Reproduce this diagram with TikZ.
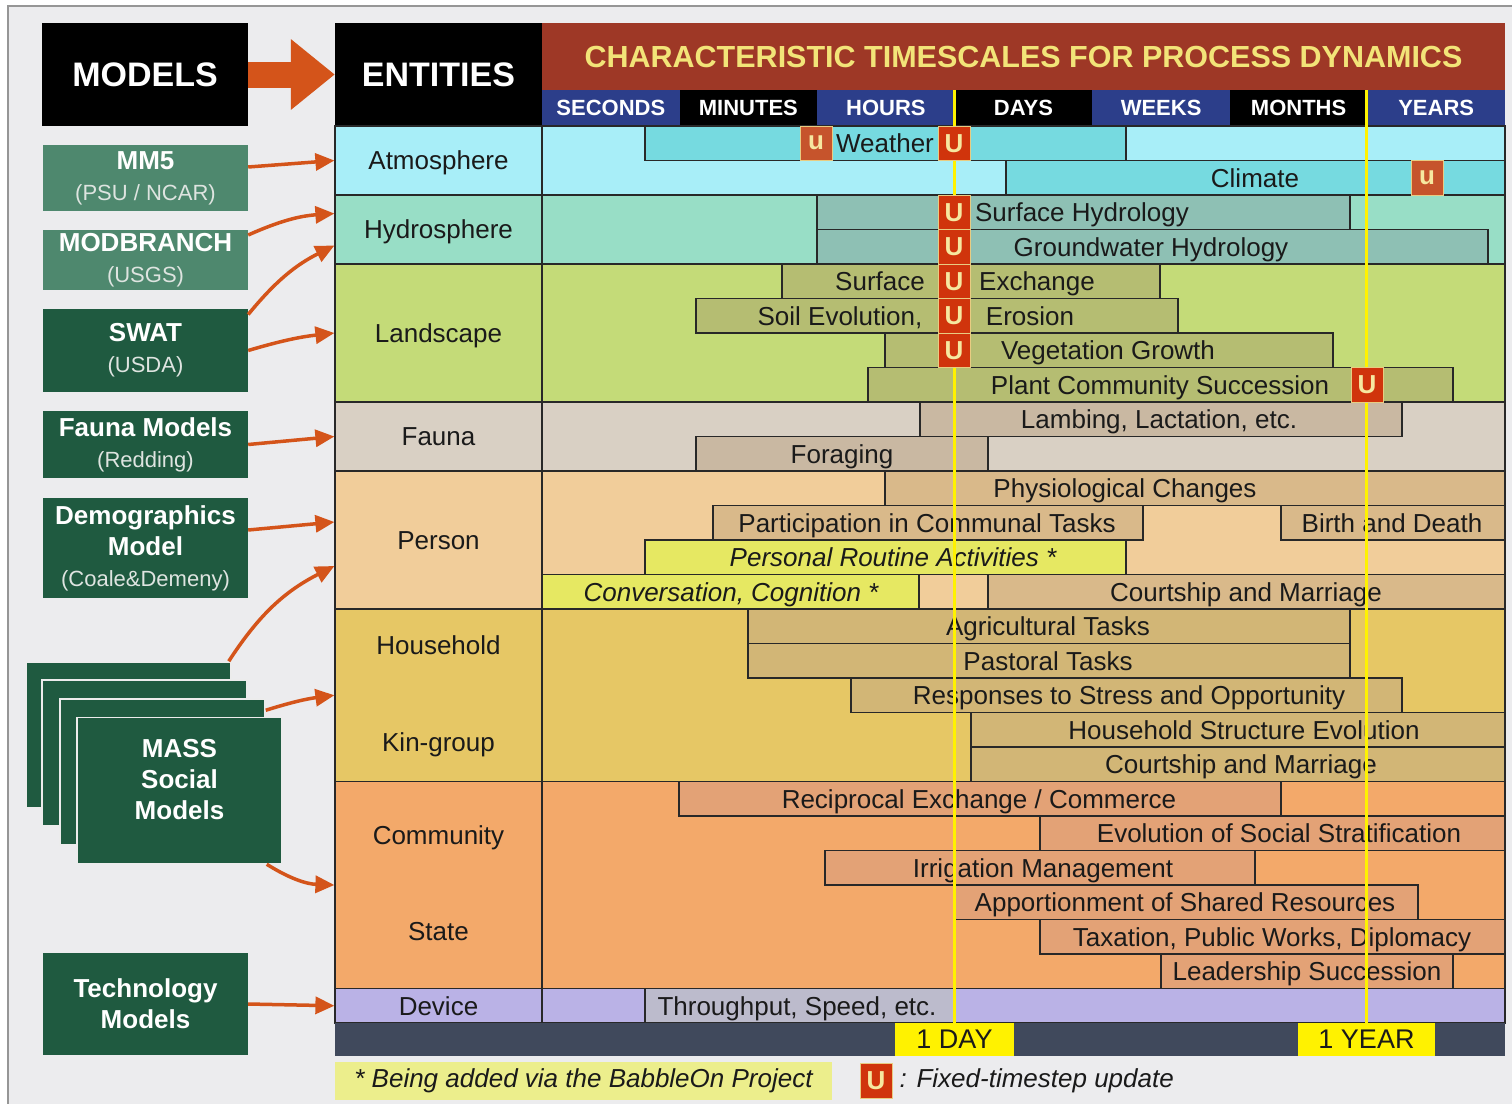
\documentclass[tikz,border=0pt]{standalone}
\usepackage{fontspec}
\setmainfont{Liberation Sans}
\usetikzlibrary{positioning,arrows.meta}

\definecolor{bgc}{RGB}{236,236,238}
\definecolor{framec}{RGB}{150,150,150}
\definecolor{arrowc}{RGB}{212,84,26}
\definecolor{linec}{RGB}{40,40,40}
\definecolor{textc}{RGB}{26,26,26}
\definecolor{titlec}{RGB}{158,56,38}
\definecolor{titletext}{RGB}{242,228,120}
\definecolor{tsblue}{RGB}{44,62,138}
\definecolor{modlight}{RGB}{78,136,110}
\definecolor{moddark}{RGB}{31,90,64}
\definecolor{subc}{RGB}{222,228,224}
\definecolor{atmrow}{RGB}{168,238,248}
\definecolor{atmbar}{RGB}{118,218,224}
\definecolor{hydrow}{RGB}{152,222,198}
\definecolor{hydbar}{RGB}{142,192,180}
\definecolor{lndrow}{RGB}{196,219,120}
\definecolor{lndbar}{RGB}{181,189,114}
\definecolor{fnarow}{RGB}{217,208,196}
\definecolor{fnabar}{RGB}{201,184,162}
\definecolor{perrow}{RGB}{241,205,154}
\definecolor{perbar}{RGB}{217,185,138}
\definecolor{newbar}{RGB}{230,232,98}
\definecolor{hhdrow}{RGB}{230,199,101}
\definecolor{hhdbar}{RGB}{210,182,118}
\definecolor{comrow}{RGB}{243,169,106}
\definecolor{combar}{RGB}{227,162,118}
\definecolor{devrow}{RGB}{186,178,230}
\definecolor{devbar}{RGB}{188,187,204}
\definecolor{axisc}{RGB}{64,73,92}
\definecolor{ylw}{RGB}{255,242,0}
\definecolor{notec}{RGB}{236,238,140}
\definecolor{updc}{RGB}{208,52,12}
\definecolor{ulow}{RGB}{198,84,44}
\definecolor{updline}{RGB}{232,204,130}
\definecolor{updtext}{RGB}{246,232,160}

\newcommand{\sublbl}[1]{{\mdseries\fontsize{22}{26}\selectfont\color{subc}#1}}

\begin{document}
\begin{tikzpicture}[x=1pt,y=-1pt,
    every node/.style={inner sep=0pt},
    headbox/.style={fill=black,text=white,minimum width=206pt,minimum height=103pt,font=\fontsize{34}{40}\selectfont\bfseries},
    tscell/.style={text=white,minimum width=137.6pt,minimum height=36pt,font=\fontsize{22}{26}\selectfont\bfseries},
    lbl/.style={text=textc,font=\fontsize{26}{30}\selectfont,text height=23pt,text depth=4.4pt},
    cell/.style={lbl,draw=linec,line width=1.2pt,minimum width=207pt},
    band/.style={draw=linec,line width=1.2pt},
    bar/.style={draw=linec,line width=1.2pt},
    model/.style={fill=modlight,text=white,minimum width=205pt,align=center,font=\fontsize{26}{31}\selectfont\bfseries},
    stack/.style={model,fill=moddark,draw=white!85!gray,line width=1.5pt,minimum height=146pt},
    upd/.style={fill=updc,draw=updline,line width=1pt,minimum width=32pt,minimum height=34.5pt,text=updtext,font=\fontsize{26}{30}\selectfont\bfseries},
    feed/.style={draw=arrowc,line width=3.5pt,-{Triangle[length=19pt,width=17pt]}},
    dayline/.style={draw=ylw,line width=3pt},
    daybox/.style={fill=ylw,minimum height=33pt,text=textc,font=\fontsize{27}{32}\selectfont}
    ]

  \useasboundingbox (0,0) rectangle (1512,1103);
  \fill[white] (0,0) rectangle (1512,1103);
  \draw[fill=bgc,draw=framec,line width=1.5pt] (8,6) rectangle (1530,1130);

  \node(models) [headbox] at (145,74.5) {MODELS};
  \node(entities) [headbox,minimum width=207pt] at (438.5,74.5) {ENTITIES};
  \draw[arrowc,line width=26pt,-{Triangle[length=44pt,width=68pt]}] (models.east) -- (entities.west);

  \node(title) [fill=titlec,text=titletext,minimum width=963pt,minimum height=67pt,font=\fontsize{30.5}{36}\selectfont\bfseries] at (1023.5,56.5) {CHARACTERISTIC TIMESCALES FOR PROCESS DYNAMICS};
  \node(hsec) [tscell,fill=tsblue] at (610.8,108) {SECONDS};
  \node(hmin) [tscell,fill=black] at (748.4,108) {MINUTES};
  \node(hhour) [tscell,fill=tsblue] at (885.9,108) {HOURS};
  \node(hday) [tscell,fill=black] at (1023.5,108) {DAYS};
  \node(hweek) [tscell,fill=tsblue] at (1161.1,108) {WEEKS};
  \node(hmonth) [tscell,fill=black] at (1298.6,108) {MONTHS};
  \node(hyear) [tscell,fill=tsblue] at (1436.2,108) {YEARS};

  \draw[band,fill=atmrow] (335,126) rectangle (1505,195);
  \draw[band,fill=hydrow] (335,195) rectangle (1505,264);
  \draw[band,fill=lndrow] (335,264) rectangle (1505,402);
  \draw[band,fill=fnarow] (335,402) rectangle (1505,471);
  \draw[band,fill=perrow] (335,471) rectangle (1505,609);
  \draw[band,fill=hhdrow] (335,609) rectangle (1505,781.5);
  \draw[band,fill=comrow] (335,781.5) rectangle (1505,988.5);
  \draw[band,fill=devrow] (335,988.5) rectangle (1505,1023);

  \node(atmo) [cell,fill=atmrow,minimum height=69pt] at (438.5,160.5) {Atmosphere};
  \node(hydro) [cell,fill=hydrow,minimum height=69pt] at (438.5,229.5) {Hydrosphere};
  \node(land) [cell,fill=lndrow,minimum height=138pt] at (438.5,333) {Landscape};
  \node(fauna) [cell,fill=fnarow,minimum height=69pt] at (438.5,436.5) {Fauna};
  \node(person) [cell,fill=perrow,minimum height=138pt] at (438.5,540) {Person};
  \node(house) [cell,fill=hhdrow,minimum height=172.5pt] at (438.5,695.25) {};
  \node(houseLbl) [lbl] at (438.5,645) {Household};
  \node(kinLbl) [lbl] at (438.5,742) {Kin-group};
  \node(comm) [cell,fill=comrow,minimum height=207pt] at (438.5,885) {};
  \node(commLbl) [lbl] at (438.5,835) {Community};
  \node(stateLbl) [lbl] at (438.5,931) {State};
  \node(device) [cell,fill=devrow,minimum height=34.5pt] at (438.5,1005.75) {Device};

  \draw[bar,fill=atmbar] (645,126) rectangle (1126,160.5) node(weather) [lbl] at (885,143.25) {Weather};
  \draw[bar,fill=atmbar] (1006,160.5) rectangle (1505,195) node(climate) [lbl] at (1255,177.75) {Climate};
  \draw[bar,fill=hydbar] (817,195) rectangle (1350,229.5) node(surfhyd) [lbl] at (1082,212.25) {Surface Hydrology};
  \draw[bar,fill=hydbar] (817,229.5) rectangle (1488,264) node(groundhyd) [lbl] at (1151,246.75) {Groundwater Hydrology};
  \draw[bar,fill=lndbar] (782,264) rectangle (1160,298.5) node(surfex) [lbl] at (880,281.25) {Surface} node(exchange) [lbl] at (1037,281.25) {Exchange};
  \draw[bar,fill=lndbar] (696,298.5) rectangle (1178,333) node(soil) [lbl] at (840,315.75) {Soil Evolution,} node(erosion) [lbl] at (1030,315.75) {Erosion};
  \draw[bar,fill=lndbar] (885,333) rectangle (1333,367.5) node(veg) [lbl] at (1108,350.25) {Vegetation Growth};
  \draw[bar,fill=lndbar] (868,367.5) rectangle (1453,402) node(plant) [lbl] at (1160,384.75) {Plant Community Succession};
  \draw[bar,fill=fnabar] (920,402) rectangle (1402,436.5) node(lambing) [lbl] at (1159,419.25) {Lambing, Lactation, etc.};
  \draw[bar,fill=fnabar] (696,436.5) rectangle (988,471) node(forage) [lbl] at (842,453.75) {Foraging};
  \draw[bar,fill=perbar] (885,471) rectangle (1505,505.5) node(physio) [lbl] at (1125,488.25) {Physiological Changes};
  \draw[bar,fill=perbar] (713,505.5) rectangle (1143,540) node(commtask) [lbl] at (927,522.75) {Participation in Communal Tasks};
  \draw[bar,fill=perbar] (1281,505.5) rectangle (1505,540) node(birth) [lbl] at (1392,522.75) {Birth and Death};
  \draw[bar,fill=newbar] (645,540) rectangle (1126,574.5) node(routine) [lbl] at (893,557.25) {\itshape Personal Routine Activities *};
  \draw[bar,fill=newbar] (542,574.5) rectangle (919,609) node(convo) [lbl] at (731,591.75) {\itshape Conversation, Cognition *};
  \draw[bar,fill=perbar] (988,574.5) rectangle (1505,609) node(courtP) [lbl] at (1246,591.75) {Courtship and Marriage};
  \draw[bar,fill=hhdbar] (748,609) rectangle (1350,643.5) node(agri) [lbl] at (1048,626.25) {Agricultural Tasks};
  \draw[bar,fill=hhdbar] (748,643.5) rectangle (1350,678) node(pastoral) [lbl] at (1048,660.75) {Pastoral Tasks};
  \draw[bar,fill=hhdbar] (851,678) rectangle (1402,712.5) node(stress) [lbl] at (1129,695.25) {Responses to Stress and Opportunity};
  \draw[bar,fill=hhdbar] (971,712.5) rectangle (1505,747) node(hhstruct) [lbl] at (1244,729.75) {Household Structure Evolution};
  \draw[bar,fill=hhdbar] (971,747) rectangle (1505,781.5) node(courtK) [lbl] at (1241,764.25) {Courtship and Marriage};
  \draw[bar,fill=combar] (679,781.5) rectangle (1281,816) node(recip) [lbl] at (979,798.75) {Reciprocal Exchange / Commerce};
  \draw[bar,fill=combar] (1040,816) rectangle (1505,850.5) node(strat) [lbl] at (1279,833.25) {Evolution of Social Stratification};
  \draw[bar,fill=combar] (825,850.5) rectangle (1255,885) node(irrig) [lbl] at (1043,867.75) {Irrigation Management};
  \draw[bar,fill=combar] (954,885) rectangle (1418,919.5) node(apport) [lbl] at (1185,902.25) {Apportionment of Shared Resources};
  \draw[bar,fill=combar] (1040,919.5) rectangle (1505,954) node(tax) [lbl] at (1272,936.75) {Taxation, Public Works, Diplomacy};
  \draw[bar,fill=combar] (1161,954) rectangle (1453,988.5) node(leader) [lbl] at (1307,971.25) {Leadership Succession};
  \draw[bar,fill=devbar] (645,988.5) rectangle (954,1023) node(thru) [lbl] at (797,1005.75) {Throughput, Speed, etc.};

  \node(axis) [fill=axisc,minimum width=1170pt,minimum height=33pt] at (920,1039.5) {};
  \node(oneday) [daybox,minimum width=119pt] at (954.5,1039.5) {1 DAY};
  \node(oneyear) [daybox,minimum width=137pt] at (1366.5,1039.5) {1 YEAR};
  \draw[dayline] (oneday.north) -- (oneday.north |- hday.north);
  \draw[dayline] (oneyear.north) -- (oneyear.north |- hyear.north);

  \node(uweather) [upd,fill=ulow] at (816,143.25) {u};
  \node(Uweather) [upd] at (954,143.25) {U};
  \node(uclimate) [upd,fill=ulow] at (1427,177.75) {u};
  \node(Usurfhyd) [upd] at (954,212.25) {U};
  \node(Ugroundhyd) [upd] at (954,246.75) {U};
  \node(Uexchange) [upd] at (954,281.25) {U};
  \node(Uerosion) [upd] at (954,315.75) {U};
  \node(Uveg) [upd] at (954,350.25) {U};
  \node(Uplant) [upd] at (1367,384.75) {U};

  \node(mm5) [model,minimum height=66pt] at (145.5,178) {MM5\\\sublbl{(PSU / NCAR)}};
  \node(modb) [model,minimum height=60pt] at (145.5,260) {MODBRANCH\\\sublbl{(USGS)}};
  \node(swat) [model,fill=moddark,minimum height=83pt] at (145.5,350.5) {SWAT\\\sublbl{(USDA)}};
  \node(faunam) [model,fill=moddark,minimum height=67pt] at (145.5,444.5) {Fauna Models\\\sublbl{(Redding)}};
  \node(demo) [model,fill=moddark,minimum height=100pt] at (145.5,548) {Demographics\\Model\\\sublbl{(Coale\&Demeny)}};
  \node(mass1) [stack] at (128.5,735) {};
  \node(mass2) [stack] at (144.5,753) {};
  \node(mass3) [stack] at (162.5,772) {};
  \node(mass4) [stack] at (179.5,790.5) {};
  \node(massLbl) [model,fill=none,minimum width=0pt] at (179.5,780) {MASS\\Social\\Models};
  \node(techm) [model,fill=moddark,minimum height=102pt] at (145.5,1004) {Technology\\Models};

  \draw[feed] ([yshift=11pt]mm5.east) -- (atmo.west);
  \draw[feed] ([yshift=25pt]modb.east) to[bend left=10] ([yshift=16pt]hydro.west);
  \draw[feed] ([yshift=36pt]swat.east) to[bend left=12] ([yshift=-16pt]hydro.west);
  \draw[feed] (swat.east) to[bend left=5] (land.west);
  \draw[feed] (faunam.east) -- (fauna.west);
  \draw[feed] ([yshift=18pt]demo.east) -- ([yshift=18pt]person.west);
  \draw[feed] ([xshift=-3pt]mass1.north east) to[bend left=15] ([yshift=-26pt]person.west);
  \draw[feed] ([yshift=-12pt]mass3.north east) to[bend left=5] (house.west);
  \draw[feed] ([xshift=-16pt]mass4.south east) to[bend right=15] (comm.west);
  \draw[feed] (techm.east) -- (device.west);

  \node(note) [fill=notec,minimum width=497pt,minimum height=38pt,text=textc,font=\fontsize{26}{30}\selectfont\itshape] at (583.5,1081) {* Being added via the BabbleOn Project};
  \node(ukey) [upd] at (876,1081) {U};
  \node(ukeyLbl) [right=7pt of ukey,text=textc,font=\fontsize{26}{30}\selectfont\itshape] {: Fixed-timestep update};

\end{tikzpicture}
\end{document}
